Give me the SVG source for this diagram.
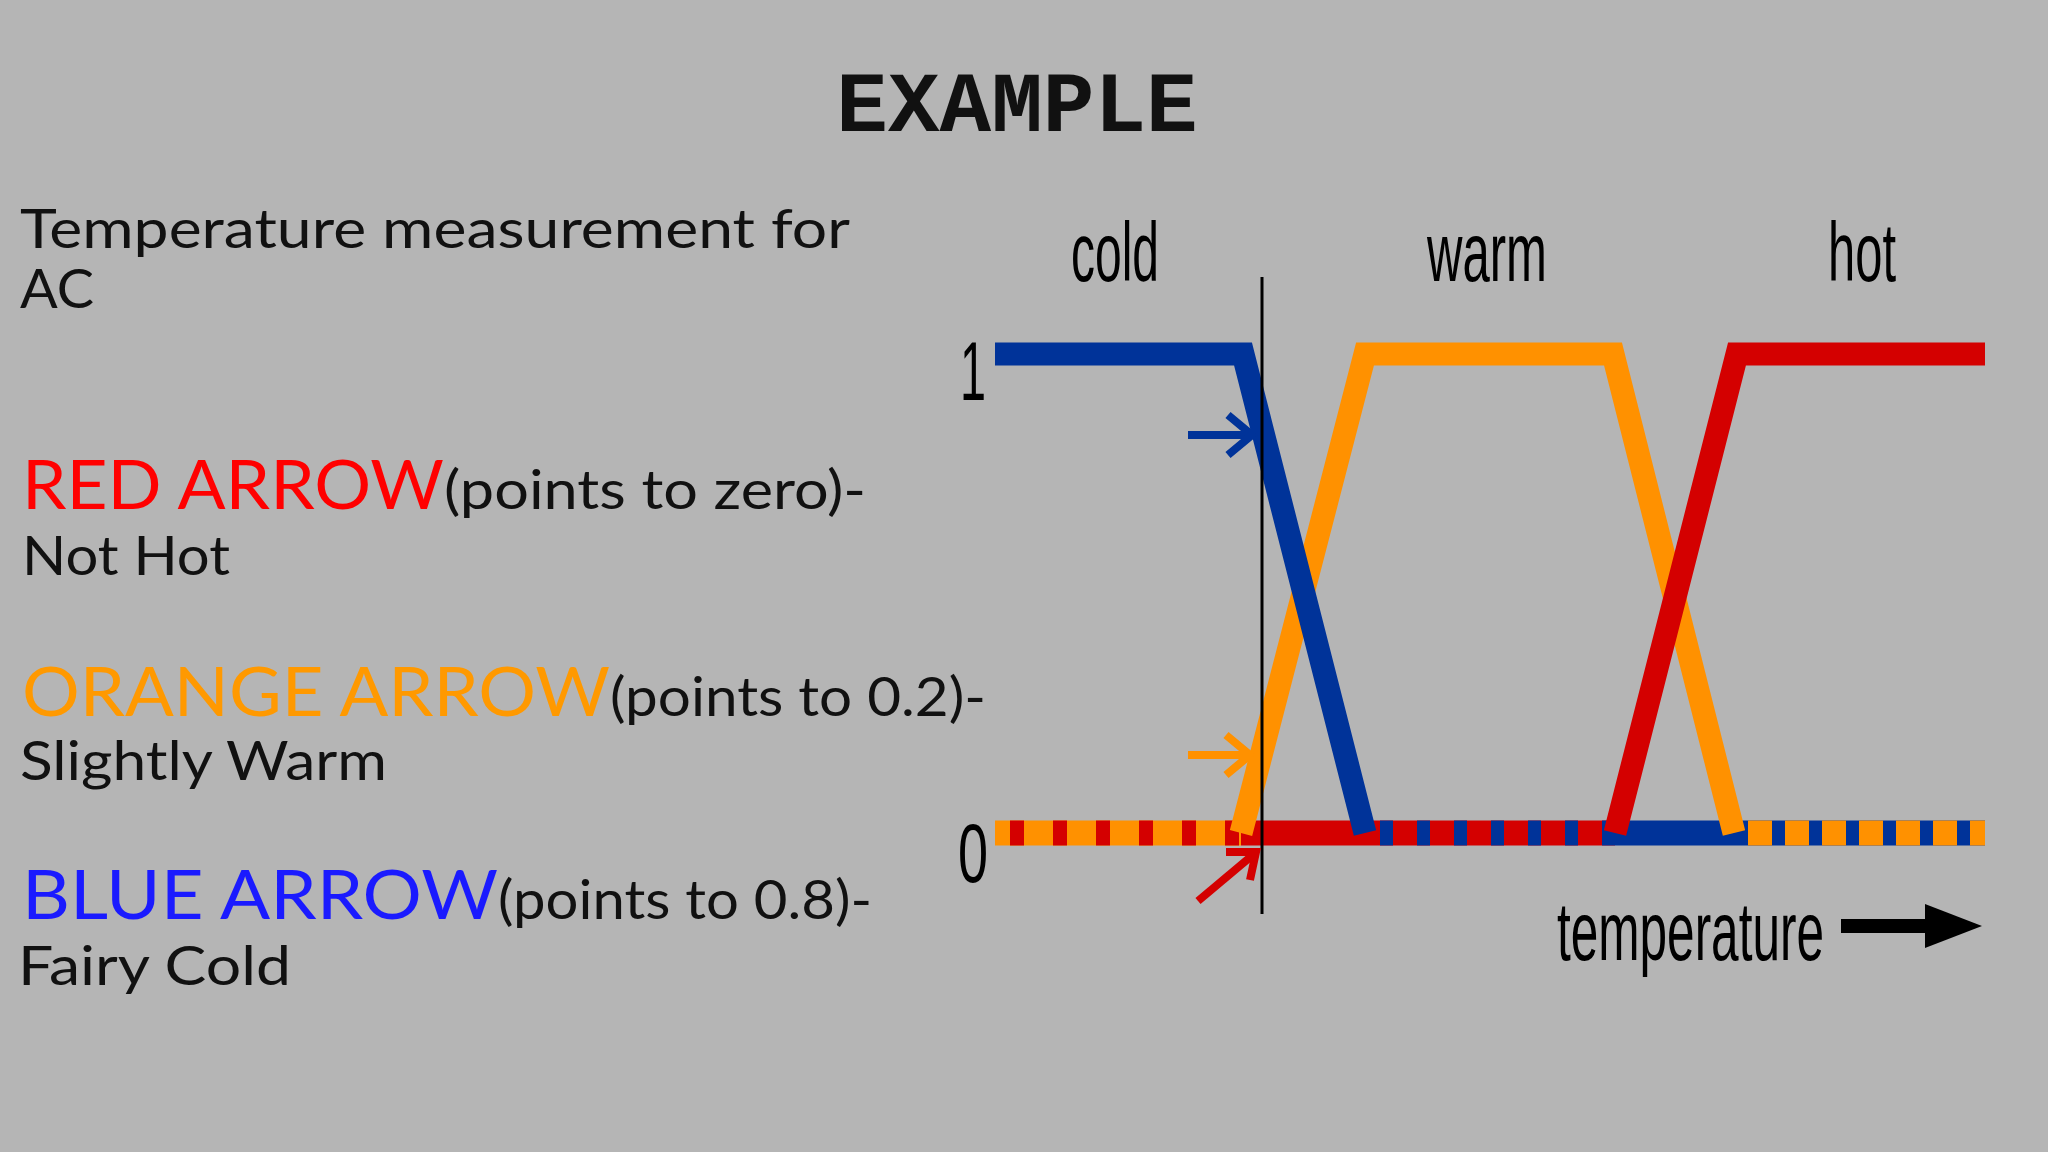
<svg xmlns="http://www.w3.org/2000/svg" width="2048" height="1152" viewBox="0 0 2048 1152">
<defs><style>
.t{font-family:"Lato","Noto Sans",sans-serif;font-size:54px;fill:#111}
.big{font-size:68px}
.c{font-family:"Liberation Sans",sans-serif;font-size:84px;fill:#000}
.ln{fill:none;stroke-width:23;stroke-linejoin:miter}
.ar{fill:none;stroke-width:8}
</style></defs>
<rect width="2048" height="1152" fill="#b5b5b5"/>
<text x="1017" y="131" text-anchor="middle" font-family="Liberation Mono,monospace" font-weight="bold" font-size="86" fill="#111">EXAMPLE</text>
<g id="text">
<text class="t" x="20" y="248" textLength="830" lengthAdjust="spacingAndGlyphs">Temperature measurement for</text>
<text class="t" x="20" y="308" textLength="74" lengthAdjust="spacingAndGlyphs">AC</text>
<text class="t" x="22" y="509"><tspan class="big" fill="#ff0000" textLength="422" lengthAdjust="spacingAndGlyphs">RED ARROW</tspan><tspan textLength="422" lengthAdjust="spacingAndGlyphs">(points to zero)-</tspan></text>
<text class="t" x="22" y="575" textLength="208" lengthAdjust="spacingAndGlyphs">Not Hot</text>
<text class="t" x="22" y="716"><tspan class="big" fill="#ff9900" textLength="588" lengthAdjust="spacingAndGlyphs">ORANGE ARROW</tspan><tspan textLength="376" lengthAdjust="spacingAndGlyphs">(points to 0.2)-</tspan></text>
<text class="t" x="20" y="780" textLength="367" lengthAdjust="spacingAndGlyphs">Slightly Warm</text>
<text class="t" x="22" y="919"><tspan class="big" fill="#1a1aff" textLength="476" lengthAdjust="spacingAndGlyphs">BLUE ARROW</tspan><tspan textLength="374" lengthAdjust="spacingAndGlyphs">(points to 0.8)-</tspan></text>
<text class="t" x="18" y="985" textLength="273" lengthAdjust="spacingAndGlyphs">Fairy Cold</text>
</g>
<g id="labels">
<text class="c" x="1071" y="281" textLength="88" lengthAdjust="spacingAndGlyphs">cold</text>
<text class="c" x="1427" y="281" textLength="120" lengthAdjust="spacingAndGlyphs">warm</text>
<text class="c" x="1828" y="281" textLength="68" lengthAdjust="spacingAndGlyphs">hot</text>
<text class="c" x="960" y="400" textLength="26" lengthAdjust="spacingAndGlyphs">1</text>
<text class="c" x="958" y="882" textLength="30" lengthAdjust="spacingAndGlyphs">0</text>
<text class="c" x="1557" y="960" textLength="267" lengthAdjust="spacingAndGlyphs">temperature</text>
</g>
<g id="zero-bar">
<line x1="995" y1="833" x2="1241" y2="833" stroke="#ff9100" stroke-width="25"/>
<line x1="1010" y1="833" x2="1241" y2="833" stroke="#d40000" stroke-width="25" stroke-dasharray="14 29"/>
<line x1="1241" y1="833" x2="1365" y2="833" stroke="#d40000" stroke-width="25"/>
<line x1="1365" y1="833" x2="1615" y2="833" stroke="#d40000" stroke-width="25"/>
<line x1="1380" y1="833" x2="1615" y2="833" stroke="#003399" stroke-width="25" stroke-dasharray="13 24"/>
<line x1="1615" y1="833" x2="1734" y2="833" stroke="#003399" stroke-width="25"/>
<line x1="1734" y1="833" x2="1985" y2="833" stroke="#003399" stroke-width="25"/>
<line x1="1748" y1="833" x2="1985" y2="833" stroke="#ff9100" stroke-width="25" stroke-dasharray="24 13"/>
</g>
<g id="curves">
<polyline class="ln" stroke="#ff9100" points="1241,833 1365,354 1613,354 1734,833"/>
<polyline class="ln" stroke="#003399" points="995,354 1243,354 1365,833"/>
<polyline class="ln" stroke="#d40000" points="1615,833 1737,354 1985,354"/>
</g>
<g id="connectors">
<line x1="1262" y1="277" x2="1262" y2="914" stroke="#000" stroke-width="3"/>
<g class="ar" stroke="#003399"><line x1="1188" y1="435" x2="1250" y2="435"/><polyline points="1228,415 1252,435 1228,455"/></g>
<g class="ar" stroke="#ff9100"><line x1="1188" y1="755" x2="1248" y2="755"/><polyline points="1226,735 1250,755 1226,775"/></g>
<g class="ar" stroke="#d40000"><line x1="1198" y1="901" x2="1254" y2="854"/><polyline points="1226,852 1256,852 1250,880"/></g>
<line x1="1841" y1="926" x2="1935" y2="926" stroke="#000" stroke-width="14"/>
<polygon points="1925,904 1982,926 1925,948" fill="#000"/>
</g>
</svg>
